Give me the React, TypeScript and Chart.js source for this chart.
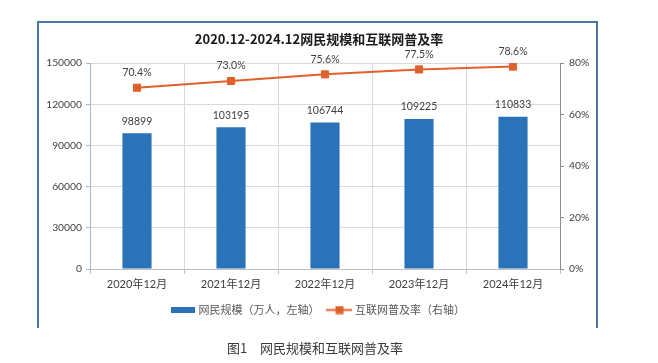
import React, { useEffect, useRef } from 'react';
import { Chart, registerables } from 'chart.js';

Chart.register(...registerables);

const categories = ['2020年12月', '2021年12月', '2022年12月', '2023年12月', '2024年12月'];
const netizens = [98899, 103195, 106744, 109225, 110833];
const rates = [70.4, 73.0, 75.6, 77.5, 78.6];
const leftMax = 150000;
const leftStep = 30000;
const rightMax = 80;
const rightStep = 20;
const titleText = '2020.12-2024.12网民规模和互联网普及率';
const seriesNames = ['网民规模（万人，左轴）', '互联网普及率（右轴）'];
const captionText = '图1\u3000网民规模和互联网普及率';

const BAR = '#2A73B8';
const LINE = '#E0602B';
const NUM_FONT = "Lato, 'Noto Sans CJK SC', sans-serif";
const CJK_FONT = "'Noto Sans CJK SC', sans-serif";

const framePlugin = {
  id: 'frame',
  beforeDraw(chart: any) {
    const ctx = chart.ctx;
    ctx.save();
    ctx.strokeStyle = '#4A76A8';
    ctx.lineWidth = 2;
    ctx.beginPath();
    ctx.moveTo(38, 328);
    ctx.lineTo(38, 22);
    ctx.lineTo(597, 22);
    ctx.lineTo(597, 328);
    ctx.stroke();
    ctx.restore();
  },
};

const labelPlugin = {
  id: 'valueLabels',
  afterDatasetsDraw(chart: any) {
    const ctx = chart.ctx;
    ctx.save();
    ctx.font = `10.5px ${NUM_FONT}`;
    ctx.fillStyle = '#404040';
    ctx.textAlign = 'center';
    ctx.textBaseline = 'middle';
    chart.getDatasetMeta(0).data.forEach((el: any, i: number) => {
      ctx.fillText(String(netizens[i]), el.x, el.y - 12);
    });
    chart.getDatasetMeta(1).data.forEach((el: any, i: number) => {
      ctx.fillText(rates[i].toFixed(1) + '%', el.x, el.y - 15);
    });
    ctx.restore();
  },
};

export default function App() {
  const ref = useRef<HTMLCanvasElement | null>(null);

  useEffect(() => {
    if (!ref.current) return;

    const barSwatch = document.createElement('canvas');
    barSwatch.width = 24;
    barSwatch.height = 6;
    const bctx = barSwatch.getContext('2d')!;
    bctx.fillStyle = BAR;
    bctx.fillRect(0, 0, 24, 6);

    const lineSwatch = document.createElement('canvas');
    lineSwatch.width = 26;
    lineSwatch.height = 9;
    const lctx = lineSwatch.getContext('2d')!;
    lctx.strokeStyle = LINE;
    lctx.lineWidth = 2;
    lctx.beginPath();
    lctx.moveTo(0, 4.5);
    lctx.lineTo(26, 4.5);
    lctx.stroke();
    lctx.fillStyle = LINE;
    lctx.fillRect(9, 0.5, 8, 8);

    const chart = new Chart(ref.current, {
      data: {
        labels: categories,
        datasets: [
          {
            type: 'bar',
            label: seriesNames[0],
            data: netizens,
            backgroundColor: BAR,
            barPercentage: 0.31,
            categoryPercentage: 1,
            yAxisID: 'y',
            order: 2,
          },
          {
            type: 'line',
            label: seriesNames[1],
            data: rates,
            borderColor: LINE,
            borderWidth: 2,
            pointStyle: 'rect',
            pointRadius: 5,
            pointBorderWidth: 1,
            pointBackgroundColor: LINE,
            pointBorderColor: LINE,
            yAxisID: 'y1',
            order: 1,
            tension: 0,
          },
        ],
      } as any,
      options: {
        responsive: false,
        animation: false,
        layout: { padding: { left: 38, right: 58, top: 22, bottom: 37.5 } },
        plugins: {
          title: {
            display: true,
            text: titleText,
            color: '#1a1a1a',
            font: { family: CJK_FONT, size: 13, weight: 'bold', lineHeight: 1.2 },
            padding: { top: 9, bottom: 16.4 },
          },
          legend: {
            position: 'bottom',
            labels: {
              usePointStyle: true,
              pointStyleWidth: 20,
              padding: 10,
              color: '#595959',
              font: { family: CJK_FONT, size: 11 },
              generateLabels: () => [
                {
                  text: seriesNames[0],
                  pointStyle: barSwatch,
                  datasetIndex: 0,
                  hidden: false,
                  fillStyle: BAR,
                  strokeStyle: BAR,
                  lineWidth: 0,
                  fontColor: '#595959',
                } as any,
                {
                  text: seriesNames[1],
                  pointStyle: lineSwatch,
                  datasetIndex: 1,
                  hidden: false,
                  fillStyle: LINE,
                  strokeStyle: LINE,
                  lineWidth: 0,
                  fontColor: '#595959',
                } as any,
              ],
            },
          },
          tooltip: { enabled: false },
        },
        scales: {
          x: {
            grid: { color: '#D9D9D9', tickColor: '#BFBFBF', tickLength: 5, offset: true },
            border: { color: '#BFBFBF' },
            ticks: {
              color: '#404040',
              font: { family: NUM_FONT, size: 11 },
              padding: 4,
              maxRotation: 0,
              autoSkip: false,
            },
            afterFit: (s: any) => {
              s.height = 25.5;
            },
          },
          y: {
            position: 'left',
            min: 0,
            max: leftMax,
            ticks: {
              stepSize: leftStep,
              color: '#404040',
              font: { family: NUM_FONT, size: 10.3 },
              padding: 4,
              callback: (v: any) => String(v),
            },
            grid: { color: '#D9D9D9', tickColor: '#A6B8D4', tickLength: 4 },
            border: { color: '#A6B8D4' },
            afterFit: (s: any) => {
              s.width = 52;
            },
          },
          y1: {
            position: 'right',
            min: 0,
            max: rightMax,
            ticks: {
              stepSize: rightStep,
              color: '#404040',
              font: { family: NUM_FONT, size: 10.3 },
              padding: 5,
              callback: (v: any) => v + '%',
            },
            grid: { drawOnChartArea: false, tickColor: '#8C8C8C', tickLength: 4 },
            border: { color: '#8C8C8C' },
            afterFit: (s: any) => {
              s.width = 40;
            },
          },
        },
      } as any,
      plugins: [framePlugin, labelPlugin],
    });

    return () => chart.destroy();
  }, []);

  return (
    <div
      style={{
        position: 'fixed',
        left: 0,
        top: 0,
        width: 658,
        height: 363,
        background: '#fff',
      }}
    >
      <canvas ref={ref} width={658} height={363} style={{ width: 658, height: 363, display: 'block' }} />
      <div
        style={{
          position: 'absolute',
          left: 0,
          top: 340,
          width: 630,
          textAlign: 'center',
          font: `13px ${CJK_FONT}`,
          lineHeight: '16px',
          color: '#3a3a3a',
        }}
      >
        {captionText}
      </div>
    </div>
  );
}
